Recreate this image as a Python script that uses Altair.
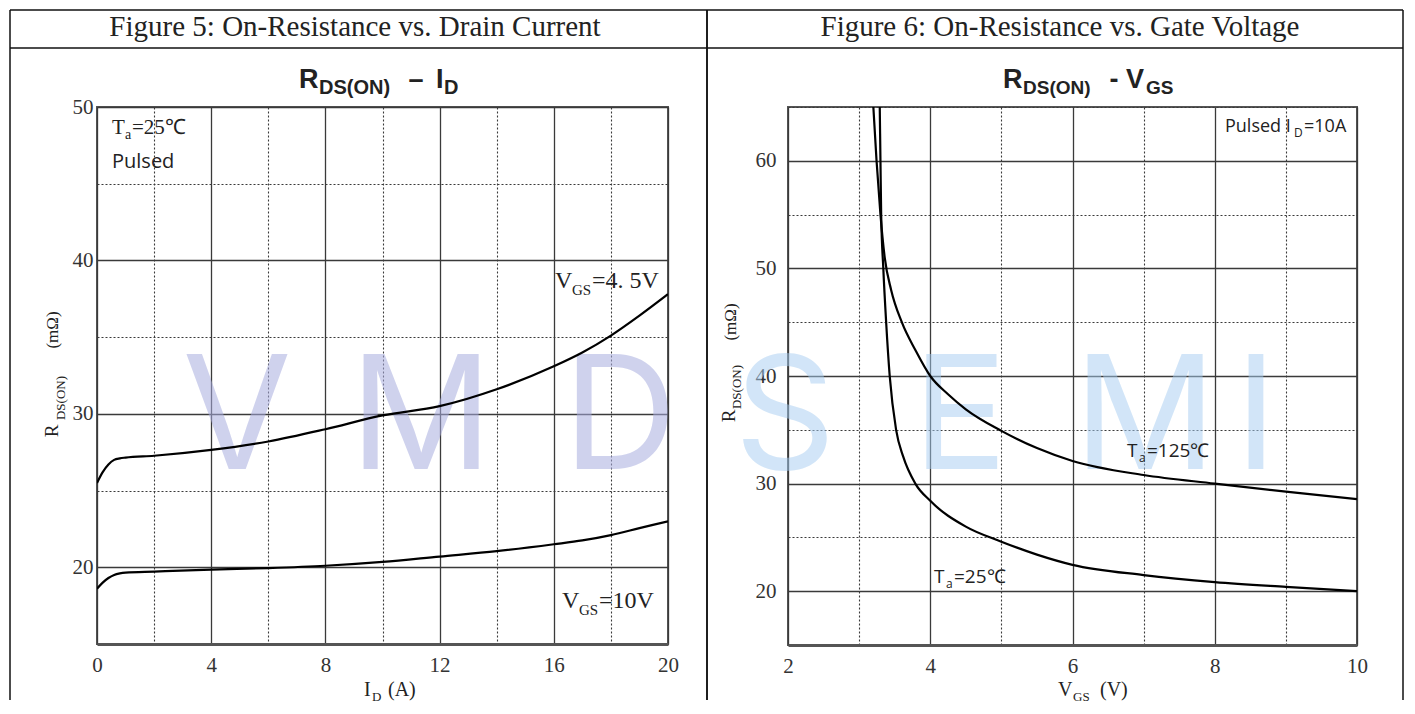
import altair as alt
import pandas as pd

# ---------------- data ----------------
# Figure 5: R_DS(ON) vs I_D
id_amp = [0, 0.2, 0.4, 0.6, 0.8, 1, 2, 4, 6, 8, 10, 12, 14, 16, 17, 18, 19, 20]
r_vgs45 = [25.5, 26.2, 26.7, 27.0, 27.1, 27.15, 27.27, 27.65, 28.2, 29.0, 29.9,
           30.5, 31.6, 33.1, 34.0, 35.1, 36.4, 37.8]
r_vgs10 = [18.6, 19.0, 19.3, 19.5, 19.6, 19.65, 19.72, 19.85, 19.95, 20.1, 20.35,
           20.7, 21.05, 21.5, 21.75, 22.1, 22.55, 23.0]

# Figure 6: R_DS(ON) vs V_GS
vgs_25 = [3.29, 3.30, 3.31, 3.34, 3.38, 3.43, 3.52, 3.62, 3.79, 4.0, 4.5, 5.0,
          5.5, 6.0, 7.0, 8.0, 9.0, 10.0]
r_25 = [65, 60, 55, 50, 45, 40, 35, 32.5, 30, 28.4, 26.0, 24.6, 23.4, 22.45,
        21.5, 20.85, 20.4, 20.0]
vgs_125 = [3.2, 3.245, 3.30, 3.36, 3.45, 3.6, 3.8, 4.0, 4.25, 4.5, 5.0, 5.5,
           6.0, 7.0, 8.0, 9.0, 10.0]
r_125 = [65, 60, 55, 51, 48, 45.0, 42.3, 40.0, 38.3, 36.9, 34.9, 33.3, 32.1,
         30.8, 30.0, 29.25, 28.55]

# axis values
x5_vals = list(range(0, 21, 2))
y5_vals = list(range(15, 51, 5))
x6_vals = list(range(2, 11, 1))
y6_vals = list(range(15, 66, 5))

SERIF = "Liberation Serif"
SANS = "Liberation Sans"
ANNO = "Open Sans"

# plot area geometry (page px) for placing decorations
T = 107
L5, W5, H5 = 97, 571, 537
L6, W6, H6 = 788, 569, 538
TOP, HDR, LEFT, MID, RIGHT, BOTTOM = 10, 48, 10, 707, 1403, 700


def one():
    return alt.Data(values=[{}])


def txt(s, x, y, size, font=SERIF, weight="normal", align="left", angle=0,
        color="#222"):
    return alt.Chart(one()).mark_text(
        text=s, font=font, fontSize=size, fontWeight=weight, align=align,
        baseline="middle", angle=angle, color=color
    ).encode(x=alt.value(x), y=alt.value(y))


def rule(x, y, x2, y2, color="#111", width=1.5):
    return alt.Chart(one()).mark_rule(color=color, strokeWidth=width).encode(
        x=alt.value(x), y=alt.value(y), x2=alt.value(x2), y2=alt.value(y2))


def axis(values, major, label_test, pad, orient_x):
    kw = dict(values=values, grid=True, ticks=False, title=None,
              labelExpr=f"({label_test}) ? datum.label : ''",
              gridDash={"condition": {"test": major, "value": []}, "value": [2, 2]},
              gridWidth={"condition": {"test": major, "value": 1.3}, "value": 1.1},
              gridColor="#3a3a3a",
              labelFont=SERIF, labelFontSize=21, labelColor="#333",
              labelPadding=pad, labelFlush=False, labelOverlap=False)
    if orient_x:
        kw.update(domain=True, domainColor="#555", domainWidth=3)
    else:
        kw.update(domain=False)
    return alt.Axis(**kw)


def panel(L, W, H, df, xf, yf, xdom, ydom, xvals, yvals, xmaj, ymaj,
          xlab, ylab, ypad, texts, left_edge, right_edge, wm_letters, wm_color, wm_op):
    R = lambda px: px - L
    Rv = lambda py: py - T
    wm = [alt.Chart(one()).mark_text(
        text=ch, font="Inter", fontSize=158, fontWeight=400, align="center",
        baseline="alphabetic", color=wm_color, opacity=wm_op
    ).encode(x=alt.value(R(cx)), y=alt.value(Rv(469))) for ch, cx in wm_letters]
    lines = alt.Chart(df).mark_line(
        color="black", strokeWidth=2.2, interpolate="monotone", clip=True
    ).encode(
        x=alt.X(f"{xf}:Q", scale=alt.Scale(domain=xdom, nice=False, zero=False),
                axis=axis(xvals, xmaj, xlab, 10, True)),
        y=alt.Y(f"{yf}:Q", scale=alt.Scale(domain=ydom, nice=False, zero=False),
                axis=axis(yvals, ymaj, ylab, ypad, False)),
        detail="series:N",
    )
    deco = [
        rule(R(left_edge), Rv(TOP), R(right_edge), Rv(TOP)),
        rule(R(left_edge), Rv(HDR), R(right_edge), Rv(HDR)),
        rule(R(left_edge), Rv(TOP), R(left_edge), Rv(BOTTOM)),
        rule(R(right_edge), Rv(TOP), R(right_edge), Rv(BOTTOM)),
    ]
    tx = [txt(s, R(x), Rv(y), size, font, weight, align, angle)
          for (s, x, y, size, font, weight, align, angle) in texts]
    return alt.layer(*wm, lines, *deco, *tx).properties(width=W, height=H)


df5 = pd.DataFrame({
    "id": id_amp + id_amp,
    "r": r_vgs45 + r_vgs10,
    "series": ["VGS=4.5V"] * len(id_amp) + ["VGS=10V"] * len(id_amp),
})
df6 = pd.DataFrame({
    "vgs": vgs_25 + vgs_125,
    "r": r_25 + r_125,
    "series": ["Ta=25"] * len(vgs_25) + ["Ta=125"] * len(vgs_125),
})

texts5 = [
    ("Figure 5: On-Resistance vs. Drain Current", 355, 27, 29, SERIF, "normal", "center", 0),
    ("R", 299, 80, 27, SANS, "bold", "left", 0),
    ("DS(ON)", 319, 88, 20, SANS, "bold", "left", 0),
    ("\u2013", 416, 80, 27, SANS, "bold", "center", 0),
    ("I", 436, 80, 27, SANS, "bold", "left", 0),
    ("D", 444, 88, 20, SANS, "bold", "left", 0),
    ("T", 112, 128, 21, SERIF, "normal", "left", 0),
    ("a", 125, 135, 14, SERIF, "normal", "left", 0),
    ("=25\u2103", 132, 128, 21, SERIF, "normal", "left", 0),
    ("Pulsed", 112, 162, 20, ANNO, "normal", "left", 0),
    ("V", 555, 281, 24, SERIF, "normal", "left", 0),
    ("GS", 572, 290, 15, SERIF, "normal", "left", 0),
    ("=4. 5V", 592, 281, 24, SERIF, "normal", "left", 0),
    ("V", 562, 601, 24, SERIF, "normal", "left", 0),
    ("GS", 579, 610, 15, SERIF, "normal", "left", 0),
    ("=10V", 599, 601, 24, SERIF, "normal", "left", 0),
    ("I", 364, 690, 20, SERIF, "normal", "left", 0),
    ("D", 372, 697, 13, SERIF, "normal", "left", 0),
    ("(A)", 388, 690, 20, SERIF, "normal", "left", 0),
    ("R", 52, 431, 19, SERIF, "normal", "center", 270),
    ("DS(ON)", 61, 398, 13, SERIF, "normal", "center", 270),
    ("(m\u03a9)", 53, 330, 17, SERIF, "normal", "center", 270),
]
texts6 = [
    ("Figure 6: On-Resistance vs. Gate Voltage", 1060, 27, 29, SERIF, "normal", "center", 0),
    ("R", 1003, 80, 27, SANS, "bold", "left", 0),
    ("DS(ON)", 1023, 88, 19, SANS, "bold", "left", 0),
    ("-", 1114, 80, 27, SANS, "bold", "center", 0),
    ("V", 1126, 80, 27, SANS, "bold", "left", 0),
    ("GS", 1146, 88, 19, SANS, "bold", "left", 0),
    ("Pulsed I", 1225, 127, 18, ANNO, "normal", "left", 0),
    ("D", 1294, 133, 12, ANNO, "normal", "left", 0),
    ("=10A", 1304, 127, 18, ANNO, "normal", "left", 0),
    ("T", 1127, 451, 19, ANNO, "normal", "left", 0),
    ("a", 1139, 458, 12, ANNO, "normal", "left", 0),
    ("=125\u2103", 1147, 451, 19, ANNO, "normal", "left", 0),
    ("T", 934, 577, 19, ANNO, "normal", "left", 0),
    ("a", 946, 584, 12, ANNO, "normal", "left", 0),
    ("=25\u2103", 954, 577, 19, ANNO, "normal", "left", 0),
    ("V", 1058, 690, 20, SERIF, "normal", "left", 0),
    ("GS", 1073, 697, 13, SERIF, "normal", "left", 0),
    ("(V)", 1100, 690, 20, SERIF, "normal", "left", 0),
    ("R", 729, 416, 19, SERIF, "normal", "center", 270),
    ("DS(ON)", 737, 387, 13, SERIF, "normal", "center", 270),
    ("(m\u03a9)", 731, 322, 17, SERIF, "normal", "center", 270),
]

left = panel(L5, W5, H5, df5, "id", "r", [0, 20], [15, 50], x5_vals, y5_vals,
             "datum.value % 4 === 0", "datum.value % 10 === 0",
             "datum.value % 4 === 0", "datum.value % 10 === 0", 4,
             texts5, LEFT, MID, [("V", 237), ("M", 421), ("D", 620)],
             "#a9aee0", 0.55)
right = panel(L6, W6, H6, df6, "vgs", "r", [2, 10], [15, 65], x6_vals, y6_vals,
              "datum.value % 2 === 0", "datum.value % 10 === 0",
              "datum.value % 2 === 0", "datum.value % 10 === 0", 12,
              texts6, MID, RIGHT,
              [("S", 785), ("E", 960), ("M", 1145), ("I", 1256)],
              "#a6cdf2", 0.5)

chart = alt.hconcat(left, right, spacing=-4, padding=0).configure_view(
    stroke="#555", strokeWidth=2
)

chart.save("out.html", embed_options={"renderer": "svg", "actions": False})
